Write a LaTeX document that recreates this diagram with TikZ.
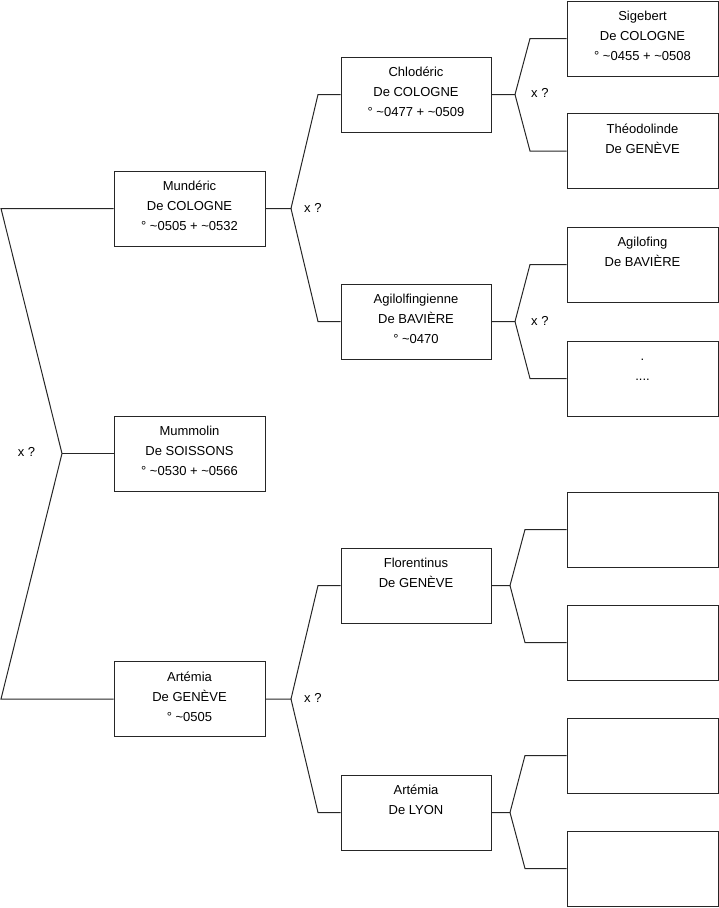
\documentclass[tikz,border=0pt]{standalone}
\usepackage{fontspec}
\setmainfont{Liberation Sans}
\begin{document}
\begin{tikzpicture}[x=1pt,y=-1pt,
  box/.style={draw=black!85,line width=1pt,minimum width=151pt,minimum height=75pt,inner sep=0pt},
  txt/.style={anchor=base,align=center,inner sep=0pt,font=\fontsize{13}{20}\selectfont},
  lbl/.style={inner sep=0pt,font=\fontsize{13}{16}\selectfont},
  ln/.style={draw=black!85,line width=1pt}]
\useasboundingbox (0,0) rectangle (719,908);
% level 1
\node[box] (mund) at (189.5,208.5) {};
\node[box] (mumm) at (189.5,453.5) {};
\node[box] (artg) at (189.5,699) {};
% level 2
\node[box,minimum width=150pt] (chlo) at (416,94.5) {};
\node[box,minimum width=150pt] (agil) at (416,321.5) {};
\node[box,minimum width=150pt] (flor) at (416,585.5) {};
\node[box,minimum width=150pt] (artl) at (416,812.5) {};
% level 3
\node[box] (sige) at (642.5,38.5) {};
\node[box] (theo) at (642.5,151) {};
\node[box] (agif) at (642.5,264.5) {};
\node[box] (dots) at (642.5,378.5) {};
\node[box] (e1) at (642.5,529.5) {};
\node[box] (e2) at (642.5,642.5) {};
\node[box] (e3) at (642.5,755.5) {};
\node[box] (e4) at (642.5,868.5) {};
% texts (base anchor = baseline of last line)
\node[txt] (tmund) at ([yshift=-60.3pt]mund.north) {Mundéric\\De COLOGNE\\° \textasciitilde0505 + \textasciitilde0532};
\node[txt] (tmumm) at ([yshift=-60.3pt]mumm.north) {Mummolin\\De SOISSONS\\° \textasciitilde0530 + \textasciitilde0566};
\node[txt] (tartg) at ([yshift=-60.3pt]artg.north) {Artémia\\De GENÈVE\\° \textasciitilde0505};
\node[txt] (tchlo) at ([yshift=-60.3pt]chlo.north) {Chlodéric\\De COLOGNE\\° \textasciitilde0477 + \textasciitilde0509};
\node[txt] (tagil) at ([yshift=-60.3pt]agil.north) {Agilolfingienne\\De BAVIÈRE\\° \textasciitilde0470};
\node[txt] (tflor) at ([yshift=-40.3pt]flor.north) {Florentinus\\De GENÈVE};
\node[txt] (tartl) at ([yshift=-40.3pt]artl.north) {Artémia\\De LYON};
\node[txt] (tsige) at ([yshift=-60.3pt]sige.north) {Sigebert\\De COLOGNE\\° \textasciitilde0455 + \textasciitilde0508};
\node[txt] (ttheo) at ([yshift=-40.3pt]theo.north) {Théodolinde\\De GENÈVE};
\node[txt] (tagif) at ([yshift=-40.3pt]agif.north) {Agilofing\\De BAVIÈRE};
\node[txt] (tdots) at ([yshift=-40.3pt]dots.north) {.\\....};
% root bracket
\coordinate (rj) at (62,453.5);
\coordinate (rt) at (1,208.5);
\coordinate (rb) at (1,699);
\draw[ln] (mund.west) -- (rt) -- (rj) -- (rb) -- (artg.west);
\draw[ln] (rj) -- (mumm.west);
\node[lbl] (x0) at (26.5,451.5) {x ?};
% Munderic bracket
\coordinate (mj) at (291,208.5);
\draw[ln] (mund.east) -- (mj) -- (318,94.5) -- (chlo.west);
\draw[ln] (mj) -- (318,321.5) -- (agil.west);
\node[lbl,anchor=west] (x1) at (304,207.5) {x ?};
% Artemia bracket
\coordinate (aj) at (291,699);
\draw[ln] (artg.east) -- (aj) -- (318,585.5) -- (flor.west);
\draw[ln] (aj) -- (318,812.5) -- (artl.west);
\node[lbl,anchor=west] (x2) at (304,697.5) {x ?};
% Chloderic bracket
\coordinate (cj) at (515,94.5);
\draw[ln] (chlo.east) -- (cj) -- (530,38.5) -- (sige.west);
\draw[ln] (cj) -- (530,151) -- (theo.west);
\node[lbl,anchor=west] (x3) at (531,92.5) {x ?};
% Agilolfingienne bracket
\coordinate (gj) at (515,321.5);
\draw[ln] (agil.east) -- (gj) -- (530,264.5) -- (agif.west);
\draw[ln] (gj) -- (530,378.5) -- (dots.west);
\node[lbl,anchor=west] (x4) at (531,320.5) {x ?};
% Florentinus bracket
\coordinate (fj) at (510,585.5);
\draw[ln] (flor.east) -- (fj) -- (525,529.5) -- (e1.west);
\draw[ln] (fj) -- (525,642.5) -- (e2.west);
% Artemia Lyon bracket
\coordinate (lj) at (510,812.5);
\draw[ln] (artl.east) -- (lj) -- (525,755.5) -- (e3.west);
\draw[ln] (lj) -- (525,868.5) -- (e4.west);
\end{tikzpicture}
\end{document}
